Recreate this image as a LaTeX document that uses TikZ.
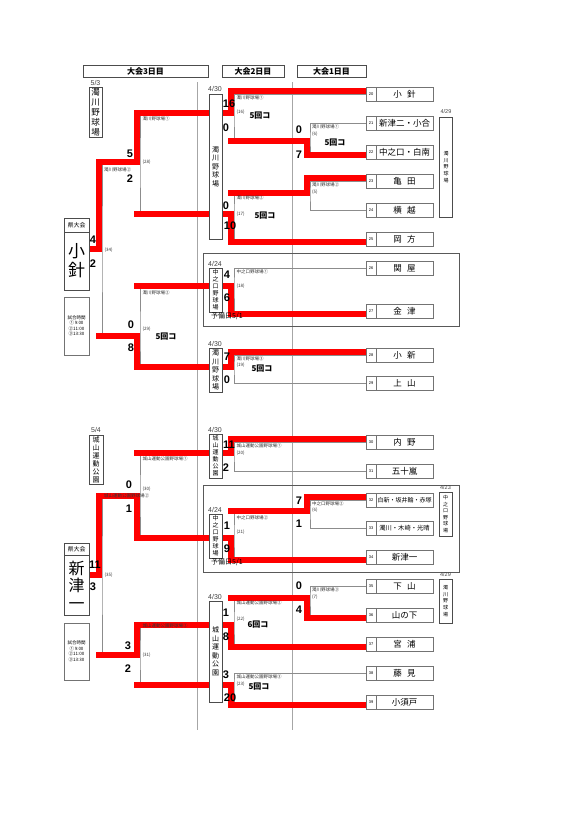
\documentclass[tikz,border=0pt]{standalone}
\usepackage{fontspec}
\setmainfont{Noto Sans CJK JP}
\newfontfamily\numfont{Liberation Sans}
\usetikzlibrary{backgrounds}
\newcommand{\tsep}{\hspace{0.6em}}

\begin{document}
\begin{tikzpicture}[x=1pt, y=-1pt,
    ln/.style={black!45, line width=0.7},
    win/.style={red, line width=6.5, line join=miter, line cap=rect},
    dv/.style={black!35, line width=0.7},
    frame/.style={black!65, line width=0.9},
    hdr/.style={draw=black!70, minimum height=12, inner sep=0, font=\bfseries\fontsize{8}{8}\selectfont},
    num/.style={draw=black!55, fill=white, minimum width=10, minimum height=14, inner sep=0, font=\numfont\fontsize{4}{4}\selectfont},
    team/.style={draw=black!55, fill=white, minimum width=57, minimum height=14, inner sep=0, font=\fontsize{8.5}{9}\selectfont},
    vbox/.style={draw=black!70, fill=white, minimum width=13, inner sep=0, align=center},
    sc/.style={inner sep=0, font=\numfont\bfseries\fontsize{11}{11}\selectfont},
    gm/.style={anchor=west, inner sep=0, text=black!80, font=\fontsize{4.5}{5}\selectfont},
    ko/.style={inner sep=0, font=\bfseries\fontsize{8}{8}\selectfont},
    dt/.style={inner sep=0, text=black!75, font=\numfont\fontsize{7}{7}\selectfont}]
    \useasboundingbox (0,0) rectangle (579,819);
    % Intestazioni
    \node[hdr, minimum width=125] (h3) at (145.5,71) {大会3日目};
    \node[hdr, minimum width=62] (h2) at (253,71) {大会2日目};
    \node[hdr, minimum width=69] (h1) at (331.5,71) {大会1日目};
    % Squadre
    \node[num] (n20) at (371,94) {20};
    \node[num] (n21) at (371,123) {21};
    \node[num] (n22) at (371,152) {22};
    \node[num] (n23) at (371,181) {23};
    \node[num] (n24) at (371,210) {24};
    \node[num] (n25) at (371,239) {25};
    \node[num] (n26) at (371,268) {26};
    \node[num] (n27) at (371,311) {27};
    \node[num] (n28) at (371,355) {28};
    \node[num] (n29) at (371,383) {29};
    \node[num] (n30) at (371,442) {30};
    \node[num] (n31) at (371,471) {31};
    \node[num] (n32) at (371,500) {32};
    \node[num] (n33) at (371,528) {33};
    \node[num] (n34) at (371,557) {34};
    \node[num] (n35) at (371,586) {35};
    \node[num] (n36) at (371,615) {36};
    \node[num] (n37) at (371,644) {37};
    \node[num] (n38) at (371,673) {38};
    \node[num] (n39) at (371,702) {39};
    \node[team] (t20) at (404.5,94) {小\tsep 針};
    \node[team] (t21) at (404.5,123) {新津二・小合};
    \node[team] (t22) at (404.5,152) {中之口・白南};
    \node[team] (t23) at (404.5,181) {亀\tsep 田};
    \node[team] (t24) at (404.5,210) {横\tsep 越};
    \node[team] (t25) at (404.5,239) {岡\tsep 方};
    \node[team] (t26) at (404.5,268) {関\tsep 屋};
    \node[team] (t27) at (404.5,311) {金\tsep 津};
    \node[team] (t28) at (404.5,355) {小\tsep 新};
    \node[team] (t29) at (404.5,383) {上\tsep 山};
    \node[team] (t30) at (404.5,442) {内\tsep 野};
    \node[team] (t31) at (404.5,471) {五十嵐};
    \node[team, font=\fontsize{6}{6}\selectfont] (t32) at (404.5,500) {白新・坂井輪・赤塚};
    \node[team, font=\fontsize{6.3}{6.3}\selectfont] (t33) at (404.5,528) {濁川・木崎・光晴};
    \node[team] (t34) at (404.5,557) {新津一};
    \node[team] (t35) at (404.5,586) {下\tsep 山};
    \node[team] (t36) at (404.5,615) {山の下};
    \node[team] (t37) at (404.5,644) {宮\tsep 浦};
    \node[team] (t38) at (404.5,673) {藤\tsep 見};
    \node[team] (t39) at (404.5,702) {小須戸};
    % Campi 1 giorno
    \node[vbox, minimum height=100, font=\fontsize{5}{6.8}\selectfont] (v1a) at (446,167) {濁\\川\\野\\球\\場};
    \node[dt, font=\numfont\fontsize{5.5}{5.5}\selectfont] (d1a) at (446,112) {4/29};
    \node[vbox, minimum height=44, font=\fontsize{5}{6.5}\selectfont] (v1b) at (445.5,514) {中\\之\\口\\野\\球\\場};
    \node[dt, font=\numfont\fontsize{5.5}{5.5}\selectfont] (d1b) at (445.5,488) {4/23};
    \node[vbox, minimum height=44, font=\fontsize{5}{6.8}\selectfont] (v1c) at (445.5,601) {濁\\川\\野\\球\\場};
    \node[dt, font=\numfont\fontsize{5.5}{5.5}\selectfont] (d1c) at (445.5,575) {4/29};
    % Campi 2 giorno
    \node[vbox, minimum height=145, font=\fontsize{7}{8.5}\selectfont] (v2a) at (215.5,166.5) {濁\\川\\野\\球\\場};
    \node[dt] (d2a) at (215,89) {4/30};
    \node[vbox, minimum height=44, font=\fontsize{6}{7}\selectfont] (v2b) at (215.5,290) {中\\之\\口\\野\\球\\場};
    \node[dt] (d2b) at (215,264) {4/24};
    \node[inner sep=0, font=\fontsize{7}{7}\selectfont] (y2b) at (227,316) {予備日5/1};
    \node[vbox, minimum height=44, font=\fontsize{7}{8.5}\selectfont] (v2c) at (215.5,370) {濁\\川\\野\\球\\場};
    \node[dt] (d2c) at (215,344) {4/30};
    \node[vbox, minimum height=44, font=\fontsize{6}{7}\selectfont] (v2d) at (215.5,456) {城\\山\\運\\動\\公\\園};
    \node[dt] (d2d) at (215,430) {4/30};
    \node[vbox, minimum height=44, font=\fontsize{6}{7}\selectfont] (v2e) at (215.5,536) {中\\之\\口\\野\\球\\場};
    \node[dt] (d2e) at (215,510) {4/24};
    \node[inner sep=0, font=\fontsize{7}{7}\selectfont] (y2e) at (227,562) {予備日5/1};
    \node[vbox, minimum height=101, font=\fontsize{7}{8.5}\selectfont] (v2f) at (215.5,651.5) {城\\山\\運\\動\\公\\園};
    \node[dt] (d2f) at (215,597) {4/30};
    % Campi 3 giorno
    \node[vbox, minimum height=50, font=\fontsize{8.5}{10}\selectfont] (v3a) at (95.5,112) {濁\\川\\野\\球\\場};
    \node[dt] (d3a) at (95.5,83) {5/3};
    \node[vbox, minimum width=14, minimum height=49, font=\fontsize{7}{8}\selectfont] (v3b) at (96,459.5) {城\\山\\運\\動\\公\\園};
    \node[dt] (d3b) at (96,430) {5/4};
    % Torneo provinciale
    \node[draw=black!70, fill=white, minimum width=25, minimum height=14, inner sep=0, font=\fontsize{6}{6}\selectfont] (kh1) at (76.5,225) {県大会};
    \node[draw=black!70, fill=white, minimum width=25, minimum height=58, inner sep=0, align=center, font=\fontsize{17}{19}\selectfont] (ken1) at (76.5,261) {小\\針};
    \node[draw=black!55, minimum width=25, minimum height=58, inner sep=0, align=center, font=\fontsize{4.5}{5.5}\selectfont] (tm1) at (76.5,326) {試合時間\\①\,9:00\\②11:00\\③13:30};
    \node[draw=black!70, fill=white, minimum width=25, minimum height=12, inner sep=0, font=\fontsize{6}{6}\selectfont] (kh2) at (76.5,549) {県大会};
    \node[draw=black!70, fill=white, minimum width=25, minimum height=60, inner sep=0, align=center, font=\fontsize{16}{17.5}\selectfont] (ken2) at (76.5,585) {新\\津\\一};
    \node[draw=black!55, minimum width=25, minimum height=57, inner sep=0, align=center, font=\fontsize{4.5}{5.5}\selectfont] (tm2) at (76.5,651.5) {試合時間\\①\,9:00\\②11:00\\③13:30};
    % Punti di gara
    \coordinate (g6) at (310,141);
    \coordinate (g5) at (310,193);
    \coordinate (g16) at (234,113);
    \coordinate (g17) at (234,214);
    \coordinate (g18) at (234,286);
    \coordinate (g19) at (234,367);
    \coordinate (g28) at (140,162);
    \coordinate (g29) at (140,336);
    \coordinate (g34) at (102,249);
    \coordinate (g6b) at (310,511);
    \coordinate (g7) at (310,598);
    \coordinate (g20) at (234,453);
    \coordinate (g21) at (234,538);
    \coordinate (g22) at (234,625);
    \coordinate (g23) at (234,685);
    \coordinate (g30) at (140,496);
    \coordinate (g31) at (140,655);
    \coordinate (g35) at (102,575);
    % Punti rossi (spostati a sinistra)
    \coordinate (r6) at ([xshift=-3pt]g6);
    \coordinate (r5) at ([xshift=-3pt]g5);
    \coordinate (r16) at ([xshift=-3pt]g16);
    \coordinate (r17) at ([xshift=-3pt]g17);
    \coordinate (r18) at ([xshift=-3pt]g18);
    \coordinate (r19) at ([xshift=-3pt]g19);
    \coordinate (r28) at ([xshift=-3pt]g28);
    \coordinate (r29) at ([xshift=-3pt]g29);
    \coordinate (r34) at ([xshift=-3pt]g34);
    \coordinate (r6b) at ([xshift=-3pt]g6b);
    \coordinate (r7) at ([xshift=-3pt]g7);
    \coordinate (r20) at ([xshift=-3pt]g20);
    \coordinate (r21) at ([xshift=-3pt]g21);
    \coordinate (r22) at ([xshift=-3pt]g22);
    \coordinate (r23) at ([xshift=-3pt]g23);
    \coordinate (r30) at ([xshift=-3pt]g30);
    \coordinate (r31) at ([xshift=-3pt]g31);
    \coordinate (r35) at ([xshift=-3pt]g35);
    \begin{pgfonlayer}{background}
        % Linee divisorie e riquadri
        \draw[dv] (197,82) -- (197,730);
        \draw[dv] (292,82) -- (292,730);
        \draw[frame] (203,253) rectangle (459,326);
        \draw[frame] (203,485) rectangle (459,572);
        % Tabellone
        \draw[ln] (n21.west) -| (g6) |- (n22.west);
        \draw[ln] (n23.west) -| (g5) |- (n24.west);
        \draw[ln] (n20.west) -| (g16) |- (g6);
        \draw[ln] (g5) -| (g17) |- (n25.west);
        \draw[ln] (n26.west) -| (g18) |- (n27.west);
        \draw[ln] (n28.west) -| (g19) |- (n29.west);
        \draw[ln] (g16) -| (g28) |- (g17);
        \draw[ln] (g18) -| (g29) |- (g19);
        \draw[ln] (g28) -| (g34) |- (g29);
        \draw[ln] (n32.west) -| (g6b) |- (n33.west);
        \draw[ln] (n35.west) -| (g7) |- (n36.west);
        \draw[ln] (n30.west) -| (g20) |- (n31.west);
        \draw[ln] (g6b) -| (g21) |- (n34.west);
        \draw[ln] (g7) -| (g22) |- (n37.west);
        \draw[ln] (n38.west) -| (g23) |- (n39.west);
        \draw[ln] (g20) -| (g30) |- (g21);
        \draw[ln] (g22) -| (g31) |- (g23);
        \draw[ln] (g30) -| (g35) |- (g31);
        % Vincitori
        \draw[win] ([yshift=3pt]n20.west) -| (r16) -| (r28) -| (r34) -- (ken1.east |- g34);
        \draw[win] ([yshift=-3pt]n22.west) -| (r6) -- (r16 |- g6);
        \draw[win] ([yshift=3pt]n23.west) -| (r5) -- (r17 |- g5);
        \draw[win] ([yshift=-3pt]n25.west) -| (r17) -- (r28 |- g17);
        \draw[win] ([yshift=-3pt]n27.west) -| (r18) -- (r29 |- g18);
        \draw[win] ([yshift=3pt]n28.west) -| (r19) -| (r29) -- (r34 |- g29);
        \draw[win] ([yshift=3pt]n30.west) -| (r20) -- (r30 |- g20);
        \draw[win] ([yshift=3pt]n32.west) -| (r6b) -- (r21 |- g6b);
        \draw[win] ([yshift=-3pt]n34.west) -| (r21) -| (r30) -| (r35) -- (ken2.east |- g35);
        \draw[win] ([yshift=-3pt]n36.west) -| (r7) -- (r22 |- g7);
        \draw[win] ([yshift=-3pt]n37.west) -| (r22) -| (r31) -- (r35 |- g31);
        \draw[win] ([yshift=-3pt]n39.west) -| (r23) -- (r31 |- g23);
    \end{pgfonlayer}
    % Etichette gare (parte alta)
    \node[gm] (l16) at (236.5,98) {濁川野球場①};
    \node[gm] (q16) at (236.5,112) {(16)};
    \node[ko] (k16) at (260,116) {5回コ};
    \node[sc] (s16a) at (229,104) {16};
    \node[sc] (s16b) at (226,128) {0};
    \node[gm] (l6) at (312,127) {濁川野球場①};
    \node[gm] (q6) at (312,134) {(6)};
    \node[ko] (k6) at (335,143) {5回コ};
    \node[sc] (s6a) at (299,130) {0};
    \node[sc] (s6b) at (299,155) {7};
    \node[gm] (l5) at (312,185) {濁川野球場②};
    \node[gm] (q5) at (312,192) {(5)};
    \node[gm] (l17) at (236.5,198) {濁川野球場②};
    \node[gm] (q17) at (236.5,214) {(17)};
    \node[ko] (k17) at (265,216) {5回コ};
    \node[sc] (s17a) at (226,206) {0};
    \node[sc] (s17b) at (230,226) {10};
    \node[gm] (l18) at (236.5,272) {中之口野球場①};
    \node[gm] (q18) at (236.5,286) {(18)};
    \node[sc] (s18a) at (227,275) {4};
    \node[sc] (s18b) at (227,298) {6};
    \node[gm] (l19) at (236.5,358.5) {濁川野球場③};
    \node[gm] (q19) at (236.5,365) {(19)};
    \node[ko] (k19) at (262,369) {5回コ};
    \node[sc] (s19a) at (227,357) {7};
    \node[sc] (s19b) at (227,380) {0};
    \node[gm] (l28) at (142.5,119) {濁川野球場①};
    \node[gm] (q28) at (142.5,162) {(28)};
    \node[sc] (s28a) at (130,154) {5};
    \node[sc] (s28b) at (130,179) {2};
    \node[gm] (l29) at (142.5,293) {濁川野球場②};
    \node[gm] (q29) at (142.5,329) {(29)};
    \node[ko] (k29) at (166,337) {5回コ};
    \node[sc] (s29a) at (131,325) {0};
    \node[sc] (s29b) at (131,348) {8};
    \node[gm] (l34) at (104,170) {濁川野球場②};
    \node[gm] (q34) at (104.5,250) {(34)};
    \node[sc] (s34a) at (93,240) {4};
    \node[sc] (s34b) at (93,264) {2};
    % Etichette gare (parte bassa)
    \node[gm] (l20) at (236.5,445.5) {城山運動公園野球場①};
    \node[gm] (q20) at (236.5,453) {(20)};
    \node[sc] (s20a) at (229,445) {11};
    \node[sc] (s20b) at (226,468) {2};
    \node[gm] (l6b) at (312,503.5) {中之口野球場②};
    \node[gm] (q6b) at (312,510) {(6)};
    \node[sc] (s6ba) at (299,501) {7};
    \node[sc] (s6bb) at (299,524) {1};
    \node[gm] (l21) at (236.5,518) {中之口野球場②};
    \node[gm] (q21) at (236.5,532) {(21)};
    \node[sc] (s21a) at (227,526) {1};
    \node[sc] (s21b) at (227,549) {9};
    \node[gm] (l7) at (312,590) {濁川野球場③};
    \node[gm] (q7) at (312,597) {(7)};
    \node[sc] (s7a) at (299,586) {0};
    \node[sc] (s7b) at (299,610) {4};
    \node[gm] (l22) at (236.5,603) {城山運動公園野球場②};
    \node[gm] (q22) at (236.5,619) {(22)};
    \node[ko] (k22) at (258,625) {6回コ};
    \node[sc] (s22a) at (226,613) {1};
    \node[sc] (s22b) at (226,637) {8};
    \node[gm] (l23) at (236.5,677) {城山運動公園野球場③};
    \node[gm] (q23) at (236.5,684) {(23)};
    \node[ko] (k23) at (259,687) {5回コ};
    \node[sc] (s23a) at (226,675) {3};
    \node[sc] (s23b) at (230,698) {20};
    \node[gm] (l30) at (142.5,459) {城山運動公園野球場①};
    \node[gm] (q30) at (142.5,489) {(30)};
    \node[sc] (s30a) at (129,485) {0};
    \node[sc] (s30b) at (129,509) {1};
    \node[gm] (l31) at (142.5,626) {城山運動公園野球場②};
    \node[gm] (q31) at (142.5,655) {(31)};
    \node[sc] (s31a) at (128,646) {3};
    \node[sc] (s31b) at (128,669) {2};
    \node[gm] (l35) at (104,496) {城山運動公園野球場②};
    \node[gm] (q35) at (104.5,575) {(35)};
    \node[sc] (s35a) at (95,565) {11};
    \node[sc] (s35b) at (93,587) {3};
\end{tikzpicture}
\end{document}
